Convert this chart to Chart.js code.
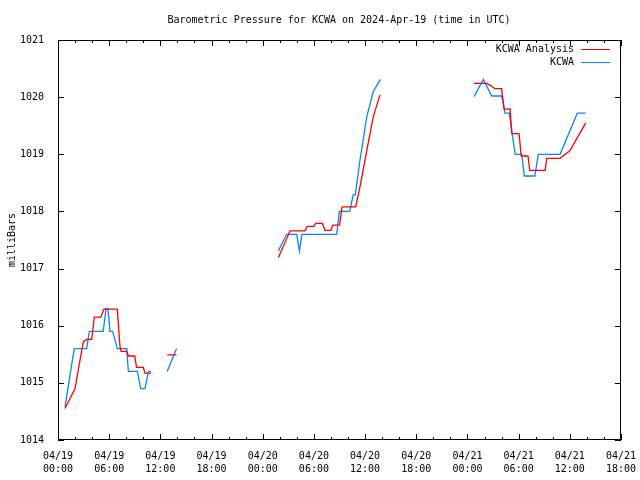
<!DOCTYPE html>
<html>
<head>
<meta charset="utf-8">
<script src="https://cdn.jsdelivr.net/npm/chart.js@4/dist/chart.umd.min.js"></script>
<style>
  html, body { margin: 0; padding: 0; background: #fff; }
  #wrap { width: 640px; height: 480px; }
</style>
</head>
<body>
<div id="wrap"><canvas id="pressureChart" width="640" height="480"></canvas></div>
<script>
// hours since 04/19 00:00 UTC; null marks a gap in the record
const analysisHours = [0.82, 2.0, 2.78, 3.0, 3.36, 3.95, 4.26, 5.0, 5.4, 6.95, 7.27, 7.4, 8.05, 8.25, 9.0, 9.2, 10.0, 10.2, 10.9, null,
  12.8, 13.9, null,
  25.83, 27.2, 28.96, 29.2, 30.0, 30.2, 31.0, 31.3, 32.0, 32.2, 33.0, 33.3, 34.9, 35.4, 36.2, 36.96, 37.75, null,
  48.77, 50.25, 50.84, 51.2, 52.0, 52.3, 53.0, 53.2, 54.05, 54.3, 55.1, 55.3, 57.1, 57.3, 58.85, 60.0, 61.86];
const analysisValues = [1014.55, 1014.9, 1015.57, 1015.72, 1015.76, 1015.76, 1016.15, 1016.15, 1016.29, 1016.29, 1015.63, 1015.55, 1015.55, 1015.47, 1015.47, 1015.27, 1015.27, 1015.17, 1015.17, null,
  1015.49, 1015.49, null,
  1017.19, 1017.66, 1017.66, 1017.74, 1017.74, 1017.79, 1017.79, 1017.67, 1017.67, 1017.76, 1017.76, 1018.08, 1018.08, 1018.43, 1019.07, 1019.66, 1020.04, null,
  1020.24, 1020.24, 1020.19, 1020.15, 1020.15, 1019.79, 1019.79, 1019.36, 1019.36, 1018.97, 1018.97, 1018.72, 1018.72, 1018.93, 1018.93, 1019.06, 1019.55];

const obsHours = [0.82, 1.9, 3.36, 3.67, 5.3, 5.63, 5.85, 6.1, 6.4, 6.95, 8.05, 8.25, 9.3, 9.7, 10.2, 10.6, 10.9, null,
  12.8, 13.9, null,
  25.83, 26.8, 27.98, 28.3, 28.6, 32.67, 32.98, 34.2, 34.6, 34.85, 35.4, 36.2, 36.96, 37.8, null,
  48.77, 49.86, 50.84, 52.0, 52.2, 52.4, 52.9, 53.2, 53.6, 54.36, 54.67, 55.9, 56.3, 58.85, 60.88, 61.86];
const obsValues = [1014.58, 1015.6, 1015.6, 1015.9, 1015.9, 1016.3, 1016.3, 1015.9, 1015.9, 1015.6, 1015.6, 1015.2, 1015.2, 1014.9, 1014.9, 1015.2, 1015.2, null,
  1015.2, 1015.6, null,
  1017.31, 1017.6, 1017.6, 1017.31, 1017.6, 1017.6, 1018.0, 1018.0, 1018.29, 1018.29, 1018.9, 1019.66, 1020.1, 1020.31, null,
  1020.01, 1020.31, 1020.02, 1020.02, 1019.89, 1019.72, 1019.72, 1019.4, 1019.0, 1019.0, 1018.62, 1018.62, 1019.0, 1019.0, 1019.72, 1019.72];

const seriesNames = ['KCWA Analysis', 'KCWA'];
const seriesColors = ['#ff0000', '#0a84ff'];
const dayLabels = ['04/19', '04/20', '04/21', '04/22'];
const titleText = 'Barometric Pressure for KCWA on 2024-Apr-19 (time in UTC)';
const yTitle = 'milliBars';

const FONT = '"DejaVu Sans Mono", "Liberation Mono", monospace';

function toPoints(hours, values) {
    return hours.map((h, i) => ({ x: h === null ? NaN : h, y: values[i] }));
}

// gnuplot-style frame, inward ticks, title and legend
const gnuplotFrame = {
    id: 'gnuplotFrame',
    afterDraw(chart) {
        const ctx = chart.ctx;
        const a = chart.chartArea;
        const xs = chart.scales.x;
        const ys = chart.scales.y;
        ctx.save();
        ctx.strokeStyle = '#000';
        ctx.lineWidth = 1;
        ctx.strokeRect(a.left + 0.5, a.top + 0.5, a.right - a.left - 1, a.bottom - a.top - 1);

        ctx.beginPath();
        for (let h = 0; h <= 66; h += 2) {
            const px = Math.round(xs.getPixelForValue(h)) + 0.5;
            const len = h % 6 === 0 ? 6 : 3;
            ctx.moveTo(px, a.bottom); ctx.lineTo(px, a.bottom - len);
            ctx.moveTo(px, a.top); ctx.lineTo(px, a.top + len);
        }
        for (let v = 1014; v <= 1021; v++) {
            const py = Math.round(ys.getPixelForValue(v)) + 0.5;
            ctx.moveTo(a.left, py); ctx.lineTo(a.left + 6, py);
            ctx.moveTo(a.right, py); ctx.lineTo(a.right - 6, py);
        }
        ctx.stroke();

        // title
        ctx.fillStyle = '#000';
        ctx.font = '10px ' + FONT;
        ctx.textAlign = 'center';
        ctx.textBaseline = 'middle';
        ctx.fillText(titleText, 339, 20);

        // legend
        ctx.textAlign = 'right';
        seriesNames.forEach((name, i) => {
            const y = 49 + i * 13;
            ctx.fillStyle = '#000';
            ctx.fillText(name, 574, y);
            ctx.strokeStyle = seriesColors[i];
            ctx.beginPath();
            ctx.moveTo(581, y + 0.5);
            ctx.lineTo(610, y + 0.5);
            ctx.stroke();
        });

        // y axis title
        ctx.translate(12, 240);
        ctx.rotate(-Math.PI / 2);
        ctx.textAlign = 'center';
        ctx.fillStyle = '#000';
        ctx.fillText(yTitle, 0, 0);
        ctx.restore();
    }
};

const ctx = document.getElementById('pressureChart').getContext('2d');

new Chart(ctx, {
    type: 'line',
    data: {
        datasets: [
            {
                label: seriesNames[0],
                data: toPoints(analysisHours, analysisValues),
                borderColor: seriesColors[0],
                borderWidth: 1.3,
                pointRadius: 0,
                tension: 0,
                spanGaps: false
            },
            {
                label: seriesNames[1],
                data: toPoints(obsHours, obsValues),
                borderColor: seriesColors[1],
                borderWidth: 1.3,
                pointRadius: 0,
                tension: 0,
                spanGaps: false
            }
        ]
    },
    options: {
        responsive: false,
        animation: false,
        devicePixelRatio: 1,
        layout: {
            padding: { left: 0, right: 19, top: 40, bottom: 0 }
        },
        plugins: {
            legend: { display: false },
            title: { display: false },
            tooltip: { enabled: false }
        },
        scales: {
            x: {
                type: 'linear',
                min: 0,
                max: 66,
                afterFit(scale) {
                    scale.height = 40;
                    scale.paddingLeft = 0;
                    scale.paddingRight = 0;
                },
                afterBuildTicks(scale) {
                    const t = [];
                    for (let h = 0; h <= 66; h += 6) t.push({ value: h });
                    scale.ticks = t;
                },
                grid: { display: false },
                border: { display: false },
                ticks: {
                    autoSkip: false,
                    maxRotation: 0,
                    padding: 2,
                    color: '#000',
                    font: { family: FONT, size: 10, lineHeight: 1.3 },
                    callback: function(value) {
                        const day = dayLabels[Math.floor(value / 24)];
                        const hr = String(value % 24).padStart(2, '0') + ':00';
                        return [day, hr];
                    }
                }
            },
            y: {
                min: 1014,
                max: 1021,
                afterFit(scale) {
                    scale.width = 58;
                    scale.paddingTop = 0;
                    scale.paddingBottom = 0;
                },
                grid: { display: false },
                border: { display: false },
                ticks: {
                    stepSize: 1,
                    padding: 6,
                    color: '#000',
                    font: { family: FONT, size: 10 },
                    callback: function(value) { return String(value); }
                }
            }
        }
    },
    plugins: [gnuplotFrame]
});
</script>
</body>
</html>
